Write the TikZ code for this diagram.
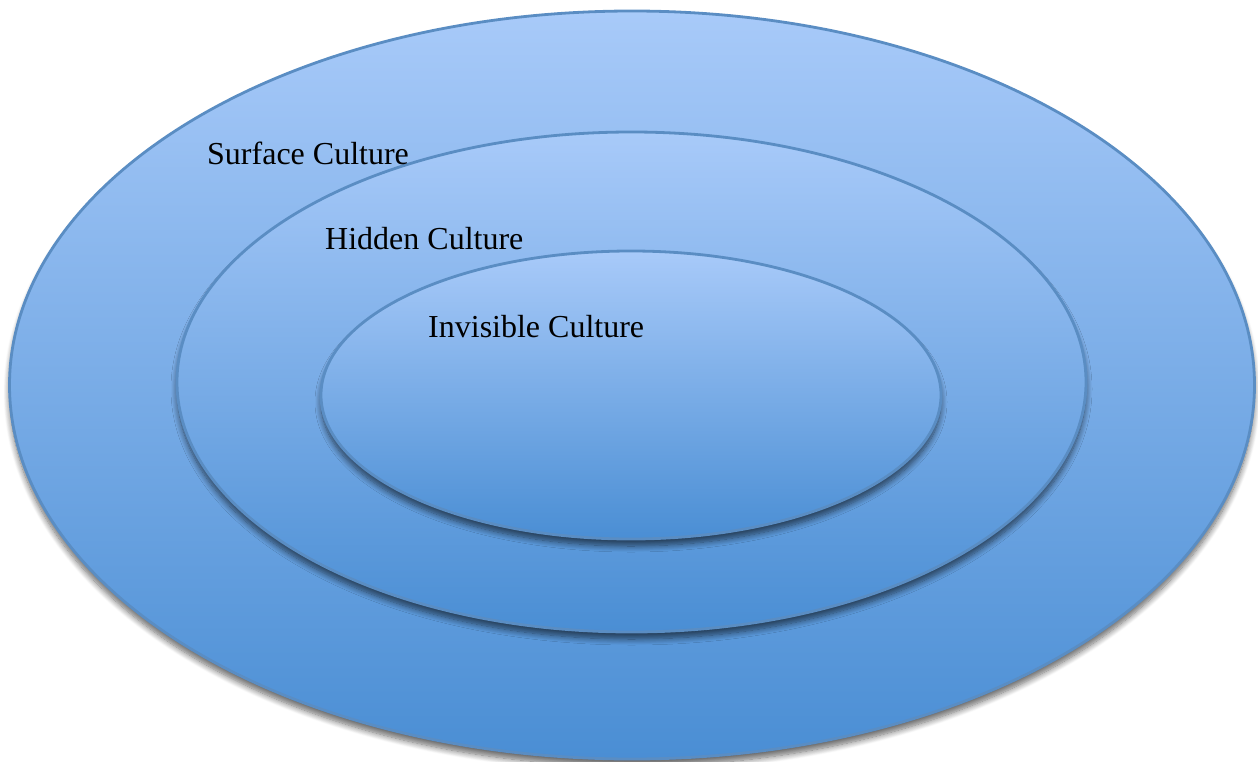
\documentclass[tikz,border=0pt]{standalone}
\usepackage{fontspec}
\setmainfont{Liberation Serif}
\usetikzlibrary{shapes.geometric,shadows.blur}
\definecolor{ringtop}{HTML}{A8CAF9}
\definecolor{ringbottom}{HTML}{4A8ED4}
\definecolor{ringedge}{HTML}{5A8DC3}
\tikzset{
  ring/.style={ellipse, inner sep=0pt, draw=ringedge, line width=2.8pt,
    top color=ringtop, bottom color=ringbottom,
    blur shadow={shadow xshift=0pt, shadow yshift=-7pt, shadow blur radius=6pt,
      shadow blur steps=10, shadow opacity=60}},
  label/.style={anchor=base west, font=\fontsize{32}{38}\selectfont, text=black,
    inner sep=0pt}
}
\begin{document}
\begin{tikzpicture}[x=1pt,y=-1pt]
  \useasboundingbox (0,0) rectangle (1258,762);
  % the three nested layers, outermost first
  \node[ring, minimum width=1245pt, minimum height=748pt] (surface) at (632,385) {};
  \node[ring, minimum width=909pt, minimum height=500pt] (hidden) at (631.5,382) {};
  \node[ring, minimum width=620pt, minimum height=288pt] (invisible) at (631,395) {};
  % labels
  \node[label] (surfacetext) at (207,165) {Surface Culture};
  \node[label] (hiddentext) at (325,249) {Hidden Culture};
  \node[label] (invisibletext) at (428,337) {Invisible Culture};
\end{tikzpicture}
\end{document}
